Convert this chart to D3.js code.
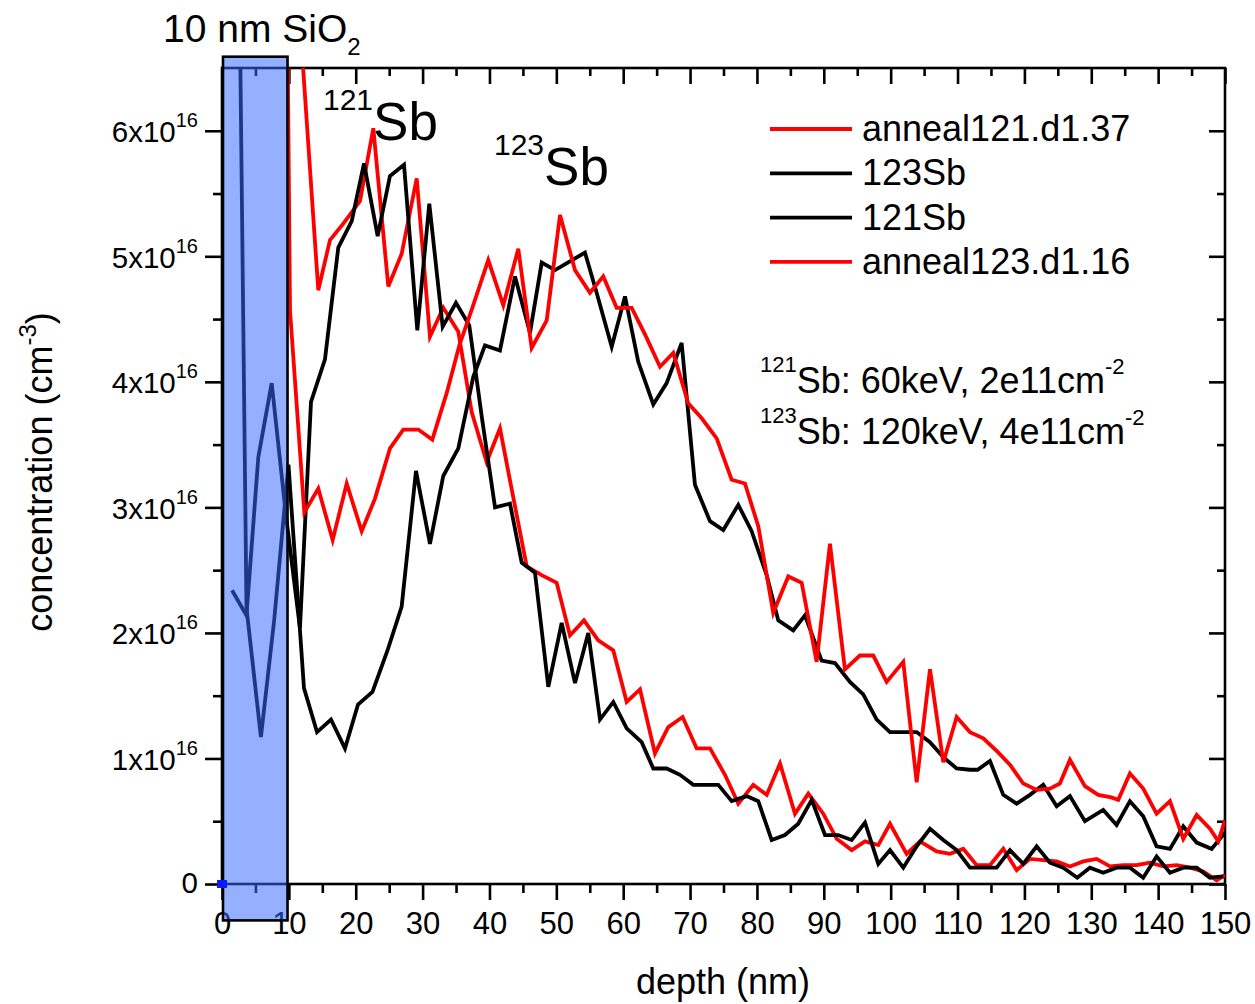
<!DOCTYPE html>
<html><head><meta charset="utf-8">
<script src="https://cdn.jsdelivr.net/npm/d3@7"></script>
<style>
body{margin:0;background:#fff;}
svg{display:block;font-family:"Liberation Sans",Arial,sans-serif;}
</style>
</head><body>
<svg id="chart" width="1255" height="1004"></svg>
<script>
// ---------------- data (depth in nm, concentration in 1e16 cm^-3) ----------------
const depthAnneal121 = [12.0,14.4,16.15,18.14,20.64,22.63,24.87,26.87,29.12,31.1,33.09,35.34,37.34,39.58,41.57,43.56,45.57,47.81,50.05,52.04,54.13,56.27,58.52,60.52,62.51,64.75,66.74,68.89,70.99,72.98,75.22,77.21,79.45,81.46,83.45,85.69,87.68,89.92,91.93,94.17,96.16,98.15,99.9,102.39,104.38,106.88,108.87,110.86,112.86,114.85,116.84,118.84,120.83,122.82,124.82,126.81,128.8,130.8,132.79,134.78,136.78,138.77,140.77,142.77,144.76,146.75,148.75,150];
const concAnneal121  = [6.6,4.73,5.13,5.26,5.44,6.02,4.76,5.02,5.62,4.36,4.59,4.4,3.76,3.36,3.63,3.08,2.53,2.46,2.4,1.98,2.1,1.94,1.86,1.45,1.55,1.04,1.25,1.33,1.08,1.08,0.87,0.64,0.79,0.71,0.96,0.56,0.72,0.56,0.36,0.27,0.34,0.31,0.48,0.24,0.34,0.26,0.24,0.28,0.15,0.15,0.28,0.11,0.2,0.19,0.18,0.14,0.18,0.2,0.14,0.15,0.15,0.17,0.14,0.15,0.13,0.1,0.03,0.07];

const depth123Sb = [1.0,3.66,5.82,7.8,9.94,12.26,14.21,16.3,18.39,20.34,22.5,24.75,26.87,29.01,31.1,33.09,35.34,37.58,39.33,41.57,43.82,46.06,47.81,49.8,52.04,54.28,56.03,58.28,60.27,62.25,64.5,66.5,68.74,70.73,72.98,74.97,77.21,79.21,81.46,83.19,85.43,87.18,89.68,91.67,93.91,95.9,97.91,99.9,101.89,103.89,105.88,107.87,109.87,111.86,113.0,114.85,116.84,118.84,120.83,122.82,124.82,126.81,129.05,131.79,133.79,135.78,137.77,139.77,141.77,143.76,145.76,148.0,150];
const conc123Sb  = [14.8,2.2,1.17,2.1,3.34,1.56,1.21,1.31,1.08,1.43,1.53,1.86,2.21,3.29,2.71,3.25,3.47,4.04,4.29,4.25,4.84,4.39,4.95,4.89,4.96,5.03,4.71,4.28,4.68,4.16,3.82,3.99,4.31,3.18,2.89,2.82,3.02,2.81,2.46,2.1,2.02,2.14,1.78,1.76,1.61,1.51,1.31,1.21,1.21,1.21,1.13,1.01,0.92,0.91,0.91,0.98,0.71,0.64,0.71,0.79,0.62,0.7,0.5,0.59,0.47,0.66,0.54,0.3,0.28,0.46,0.33,0.28,0.41];

const depth121Sb = [1.5,3.66,5.43,7.43,9.6,11.66,13.31,15.4,17.39,19.4,21.24,23.28,25.12,27.22,29.21,31.0,33.0,34.99,36.98,38.88,40.83,43.07,44.82,46.81,48.8,50.8,52.79,54.78,56.53,58.52,60.52,62.76,64.5,66.5,68.49,70.48,72.38,74.22,76.22,78.46,80.2,82.2,84.19,86.18,88.19,90.18,92.16,94.17,96.16,98.15,99.9,101.89,103.89,105.88,107.87,109.87,111.86,113.85,115.85,117.84,119.83,121.83,123.82,125.81,127.9,129.8,131.79,133.79,135.78,137.77,139.77,141.77,143.76,145.76,147.75,149.74];
const conc121Sb  = [2.34,2.14,3.4,3.99,2.92,2.04,3.84,4.18,5.07,5.28,5.74,5.16,5.64,5.73,4.41,5.42,4.44,4.63,4.45,3.71,3.0,3.03,2.56,2.48,1.57,2.08,1.6,2.0,1.31,1.45,1.24,1.13,0.92,0.92,0.87,0.79,0.79,0.79,0.66,0.7,0.66,0.35,0.39,0.48,0.67,0.39,0.39,0.35,0.49,0.16,0.27,0.13,0.3,0.44,0.35,0.27,0.13,0.13,0.13,0.27,0.16,0.3,0.17,0.13,0.05,0.13,0.09,0.13,0.13,0.05,0.22,0.09,0.13,0.13,0.05,0.06];

const depthAnneal123 = [8.0,10.17,12.31,14.4,16.55,18.65,20.89,22.88,25.12,27.11,29.36,31.45,33.6,35.49,37.5,39.82,42.07,44.31,46.31,48.56,50.55,52.79,55.03,57.02,59.02,61.27,63.33,65.5,67.49,69.73,71.74,73.98,76.22,78.21,80.2,82.44,84.69,86.69,88.93,90.92,93.16,95.4,97.4,99.4,101.88,103.89,105.88,107.87,109.87,111.86,113.85,115.85,117.84,119.83,121.83,123.82,125.3,126.81,129.05,131.04,133.0,134.04,135.78,137.77,139.77,141.77,143.76,145.76,147.75,149.0,150];
const concAnneal123  = [17.5,4.57,2.96,3.15,2.74,3.19,2.81,3.07,3.47,3.62,3.62,3.54,3.91,4.29,4.6,4.97,4.61,5.06,4.27,4.49,5.33,4.89,4.71,4.84,4.59,4.59,4.37,4.12,4.23,3.83,3.71,3.55,3.22,3.19,2.85,2.16,2.45,2.4,1.77,2.71,1.71,1.82,1.82,1.61,1.77,0.81,1.71,0.97,1.33,1.21,1.16,1.06,0.95,0.8,0.75,0.76,0.8,0.99,0.78,0.71,0.69,0.67,0.88,0.76,0.56,0.66,0.36,0.55,0.44,0.34,0.51];

const legendLabels = ["anneal121.d1.37","123Sb","121Sb","anneal123.d1.16"];
const seriesColors = ["#ff0000","#000000","#000000","#ff0000"];
const xTickValues = [0,10,20,30,40,50,60,70,80,90,100,110,120,130,140,150];
const xMinorValues = [5,15,25,35,45,55,65,75,85,95,105,115,125,135,145];
const yTickValues = [0,1,2,3,4,5,6];
const yMinorValues = [0.5,1.5,2.5,3.5,4.5,5.5];
const oxideDepth = [0, 9.8];          // SiO2 layer (nm)
const oxideSpan = [-0.29, 6.59];      // vertical extent of the marker box (1e16)

// ---------------- setup ----------------
const svg = d3.select("#chart");
const L = 222, R = 1225, T = 68, B = 884;
const x = d3.scaleLinear().domain([0,150]).range([L,R]);
const y = d3.scaleLinear().domain([0,6.5]).range([B,T]);

svg.append("rect").attr("width",1255).attr("height",1004).attr("fill","#fff");

svg.append("defs").append("clipPath").attr("id","plotclip")
  .append("rect").attr("x",L).attr("y",T).attr("width",R-L).attr("height",B-T);

const tickStyle = g => {
  g.select(".domain").remove();
  g.selectAll(".tick line").attr("stroke","#000").attr("stroke-width",2.6);
};

// bottom axis
const gB = svg.append("g").attr("transform",`translate(0,${B})`)
  .call(d3.axisBottom(x).tickValues(xTickValues).tickSizeInner(16).tickSizeOuter(0).tickPadding(12).tickFormat(d3.format("d")))
  .call(tickStyle);
gB.selectAll("text").attr("font-size",31).attr("fill","#000").attr("font-family","Liberation Sans, Arial, sans-serif");
svg.append("g").attr("transform",`translate(0,${B})`)
  .call(d3.axisBottom(x).tickValues(xMinorValues).tickSizeInner(9).tickSizeOuter(0).tickFormat(""))
  .call(tickStyle);
// top axis (inward)
svg.append("g").attr("transform",`translate(0,${T})`)
  .call(d3.axisTop(x).tickValues(xTickValues).tickSizeInner(-16).tickSizeOuter(0).tickFormat(""))
  .call(tickStyle);
svg.append("g").attr("transform",`translate(0,${T})`)
  .call(d3.axisTop(x).tickValues(xMinorValues).tickSizeInner(-8).tickSizeOuter(0).tickFormat(""))
  .call(tickStyle);
// left axis
const gL = svg.append("g").attr("transform",`translate(${L},0)`)
  .call(d3.axisLeft(y).tickValues(yTickValues).tickSizeInner(17).tickSizeOuter(0).tickFormat(""))
  .call(tickStyle);
svg.append("g").attr("transform",`translate(${L},0)`)
  .call(d3.axisLeft(y).tickValues(yMinorValues).tickSizeInner(9).tickSizeOuter(0).tickFormat(""))
  .call(tickStyle);
// right axis (inward)
svg.append("g").attr("transform",`translate(${R},0)`)
  .call(d3.axisRight(y).tickValues(yTickValues).tickSizeInner(-16).tickSizeOuter(0).tickFormat(""))
  .call(tickStyle);
svg.append("g").attr("transform",`translate(${R},0)`)
  .call(d3.axisRight(y).tickValues(yMinorValues).tickSizeInner(-8).tickSizeOuter(0).tickFormat(""))
  .call(tickStyle);

// y tick labels with superscripts
gL.selectAll(".tick").each(function(d){
  const t = d3.select(this).append("text")
    .attr("x",-24).attr("y",d===0?8:11)
    .attr("text-anchor","end").attr("fill","#000").attr("font-size",29.5)
    .attr("font-family","Liberation Sans, Arial, sans-serif");
  if (d===0) { t.text("0"); }
  else {
    t.append("tspan").text(d+"x10");
    t.append("tspan").attr("dy",-15).attr("font-size",20).text("16");
  }
});

// frame
svg.append("rect").attr("x",L).attr("y",T).attr("width",R-L).attr("height",B-T)
  .attr("fill","none").attr("stroke","#000").attr("stroke-width",2.6);

// data lines
const line = d3.line().x(d=>x(d[0])).y(d=>y(d[1]));
const series = [
  [depthAnneal121, concAnneal121],
  [depth123Sb, conc123Sb],
  [depth121Sb, conc121Sb],
  [depthAnneal123, concAnneal123]
];
const gData = svg.append("g").attr("clip-path","url(#plotclip)");
series.forEach((s,i)=>{
  const pts = s[0].map((dd,k)=>[dd,s[1][k]]);
  gData.append("path").datum(pts).attr("d",line)
    .attr("fill","none").attr("stroke",seriesColors[i]).attr("stroke-width",3.8)
    .attr("stroke-linejoin","miter");
});

// oxide box (semi-transparent)
svg.append("rect")
  .attr("x",x(oxideDepth[0])+1).attr("y",y(oxideSpan[1]))
  .attr("width",x(oxideDepth[1])-x(oxideDepth[0])-1).attr("height",y(oxideSpan[0])-y(oxideSpan[1]))
  .attr("fill","rgb(55,105,255)").attr("fill-opacity",0.53)
  .attr("stroke","#000").attr("stroke-width",2.6);

// blue marker at origin
svg.append("rect").attr("x",x(0)-5).attr("y",y(0)-4).attr("width",10).attr("height",8).attr("fill","#0a1cff");

// legend
const gLeg = svg.append("g");
legendLabels.forEach((lab,i)=>{
  const yy = 129 + i*44.3;
  gLeg.append("line").attr("x1",770).attr("x2",852).attr("y1",yy).attr("y2",yy)
    .attr("stroke",seriesColors[i]).attr("stroke-width",3.8);
  gLeg.append("text").attr("x",862).attr("y",yy+12).attr("font-size",36).attr("fill","#000").text(lab);
});

// annotations
function supText(xp, yp, sup, main, supSize, mainSize, supRaise){
  const t = svg.append("text").attr("x",xp).attr("y",yp).attr("fill","#000");
  t.append("tspan").attr("font-size",supSize).attr("dy",-supRaise).text(sup);
  t.append("tspan").attr("font-size",mainSize).attr("dy",supRaise).text(main);
  return t;
}
supText(323,140,"121","Sb",30,53,30);
supText(494,185,"123","Sb",30,53,30);

function infoLine(yp, iso, rest, exp){
  const t = svg.append("text").attr("x",760).attr("y",yp).attr("fill","#000");
  t.append("tspan").attr("font-size",22).attr("dy",-21).text(iso);
  t.append("tspan").attr("font-size",36).attr("dy",21).text(rest);
  t.append("tspan").attr("font-size",22).attr("dy",-19).text(exp);
}
infoLine(393,"121","Sb: 60keV, 2e11cm","-2");
infoLine(444,"123","Sb: 120keV, 4e11cm","-2");

// SiO2 label
const tS = svg.append("text").attr("x",163).attr("y",42).attr("fill","#000").attr("font-size",39);
tS.append("tspan").text("10 nm SiO");
tS.append("tspan").attr("font-size",24).attr("dy",13).text("2");

// axis titles
svg.append("text").attr("x",723).attr("y",994).attr("text-anchor","middle")
  .attr("font-size",36).attr("fill","#000").text("depth (nm)");
const yt = svg.append("text").attr("transform","translate(52,472) rotate(-90)")
  .attr("text-anchor","middle").attr("font-size",36).attr("fill","#000");
yt.append("tspan").text("concentration (cm");
yt.append("tspan").attr("font-size",24).attr("dy",-16).text("-3");
yt.append("tspan").attr("dy",16).text(")");
</script>
</body></html>
